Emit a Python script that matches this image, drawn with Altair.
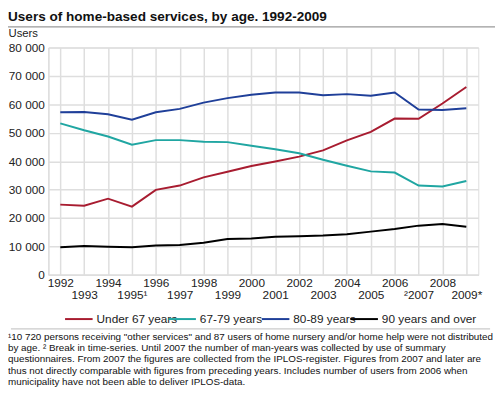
import altair as alt
import pandas as pd

years = ["1992", "1993", "1994", "1995¹", "1996", "1997", "1998", "1999", "2000",
         "2001", "2002", "2003", "2004", "2005", "2006", "²2007", "2008", "2009*"]
series_names = ["Under 67 years", "67-79 years", "80-89 years", "90 years and over"]
under67 = [24700, 24300, 26800, 24000, 29900, 31400, 34300, 36300, 38300,
           39900, 41600, 43800, 47300, 50300, 55000, 54900, 60300, 66100]
age6779 = [53300, 50900, 48700, 45800, 47400, 47400, 46800, 46700, 45400,
           44200, 42800, 40500, 38400, 36400, 36000, 31400, 31100, 33000]
age8089 = [57200, 57300, 56500, 54600, 57200, 58400, 60600, 62200, 63400,
           64200, 64200, 63200, 63600, 63000, 64200, 58200, 58000, 58600]
age90 = [9700, 10100, 9900, 9700, 10300, 10500, 11300, 12600, 12800,
         13400, 13600, 13800, 14300, 15200, 16100, 17300, 17900, 16900]
colors = ["#a81c30", "#20a6a2", "#1f3f99", "#000000"]

title_text = "Users of home-based services, by age. 1992-2009"
footnote_lines = [
    "¹10 720 persons receiving \"other services\" and 87 users of home nursery and/or home help were not distributed",
    "by age. ² Break in time-series. Until 2007 the number of man-years was collected by use of summary",
    "questionnaires. From 2007 the figures are collected from the IPLOS-register. Figures from 2007 and later are",
    "thus not directly comparable with figures from preceding years. Includes number of users from 2006 when",
    "municipality have not been able to deliver IPLOS-data.",
]

rows = []
for name, vals in zip(series_names, [under67, age6779, age8089, age90]):
    for y, v in zip(years, vals):
        rows.append({"year": y, "series": name, "value": v})
df = pd.DataFrame(rows)

odd = [y for i, y in enumerate(years) if i % 2 == 1]
odd_expr = "[" + ",".join("'" + s + "'" for s in odd) + "]"
label_expr = f"indexof({odd_expr}, datum.value) >= 0 ? ['', datum.value] : datum.value"

FONT = "Liberation Sans"
PW, PH = 437, 231
legend_x = [16, 121, 216, 306]

x_enc = alt.X("year:N", sort=years, scale=alt.Scale(type="point", padding=0.5),
              axis=alt.Axis(title=None, labelExpr=label_expr, labelAngle=0,
                            labelOverlap=False, labelFontSize=12, labelLineHeight=12,
                            labelBaseline="top", labelPadding=3, ticks=False,
                            grid=True, gridColor="#dedede", gridWidth=1.5,
                            domainColor="#dedede", domainWidth=1.5,
                            labelColor="#222222", labelFont=FONT))
y_enc = alt.Y("value:Q", scale=alt.Scale(domain=[0, 80000], nice=False),
              axis=alt.Axis(values=list(range(0, 80001, 10000)),
                            labelExpr="replace(format(datum.value, ',d'), ',', ' ')",
                            title="Users", titleAngle=0, titleX=-41, titleY=-14,
                            titleAlign="left", titleBaseline="middle",
                            titleFontSize=11.5, titleFontWeight="normal",
                            titleColor="#222222", titleFont=FONT,
                            labelFontSize=12, labelPadding=4, ticks=False,
                            labelColor="#222222", labelFont=FONT,
                            grid=True, gridColor="#dedede", gridWidth=1.5,
                            domainColor="#dedede", domainWidth=1.5))

series_layers = []
for i, (name, col) in enumerate(zip(series_names, colors)):
    layer = alt.Chart(df).transform_filter(
        alt.datum.series == name
    ).mark_line(strokeWidth=2).encode(
        x=x_enc, y=y_enc,
        color=alt.Color("series:N",
                        scale=alt.Scale(domain=[name], range=[col]),
                        legend=alt.Legend(title=None, orient="none",
                                          legendX=legend_x[i], legendY=261,
                                          symbolType="stroke", symbolSize=784,
                                          symbolStrokeWidth=2, labelFontSize=12,
                                          labelFont=FONT, labelColor="#222222",
                                          labelOffset=3, padding=0)),
    )
    series_layers.append(layer)

title = alt.Chart(pd.DataFrame({"t": [title_text]})).mark_text(
    align="left", baseline="alphabetic", fontSize=13.8, fontWeight="bold",
    font=FONT, color="#111111"
).encode(text="t:N", x=alt.value(-41), y=alt.value(-26.5))

sep_top = alt.Chart(pd.DataFrame({"a": [0]})).mark_rule(color="#9a9a9a", strokeWidth=1.5).encode(
    x=alt.value(-41), x2=alt.value(PW + 17), y=alt.value(-21))

sep_bottom = alt.Chart(pd.DataFrame({"a": [0]})).mark_rule(color="#bdbdbd", strokeWidth=1).encode(
    x=alt.value(-38), x2=alt.value(PW + 12), y=alt.value(286))

foot = alt.Chart(pd.DataFrame({"a": [0]})).mark_text(
    align="left", baseline="top", fontSize=10, lineHeight=11.5, font=FONT, color="#111111"
).encode(text=alt.value(footnote_lines), x=alt.value(-41), y=alt.value(289))

chart = alt.layer(*series_layers, title, sep_top, sep_bottom, foot).resolve_scale(
    color="independent"
).properties(
    width=PW, height=PH,
    autosize=alt.AutoSizeParams(type="none"),
    padding={"left": 41, "top": 37, "right": 17, "bottom": 119},
).configure_view(stroke=None).configure(font=FONT)

chart.save("out.html", embed_options={"renderer": "svg", "actions": False})
